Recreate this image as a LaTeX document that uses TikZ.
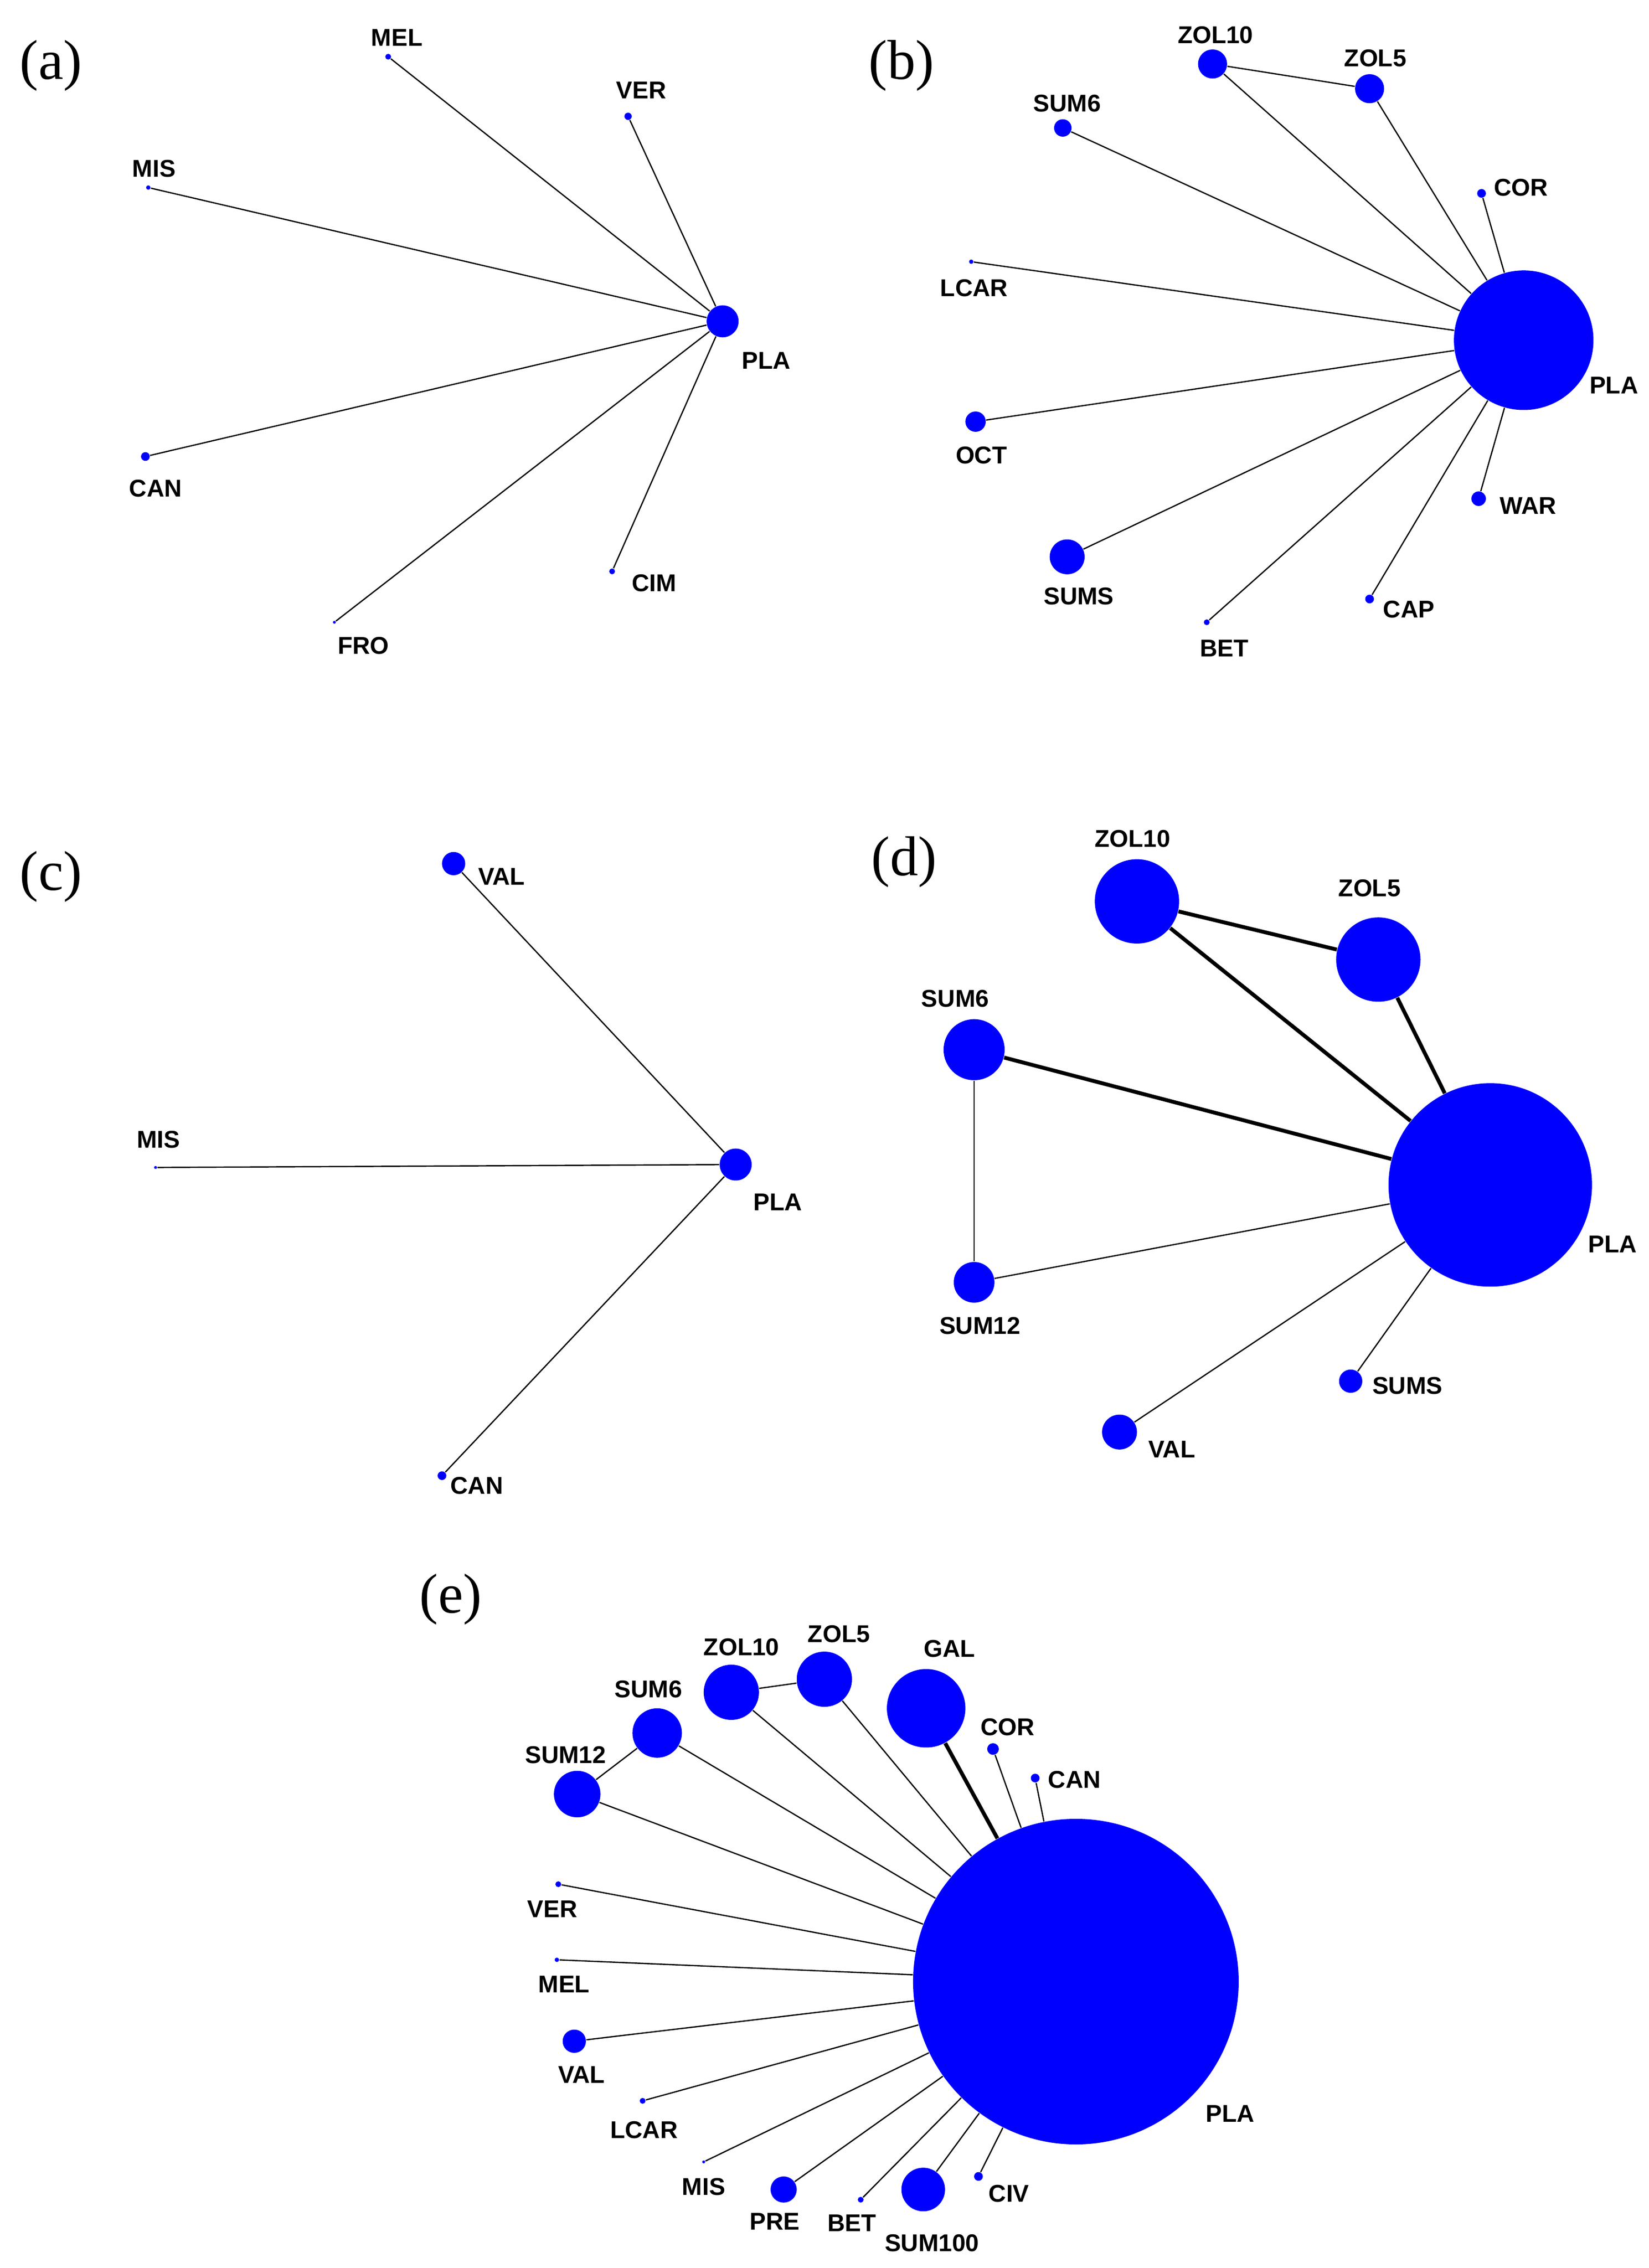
\documentclass[tikz,border=0pt]{standalone}
\usepackage{fontspec}
\setmainfont{Liberation Serif}
\newfontfamily\lblfont{Liberation Sans}
\usetikzlibrary{positioning}
\tikzset{
  dot/.style={circle,fill=blue,draw=none,inner sep=0pt,minimum size=#1*0.4mm},
  lbl/.style={font=\lblfont\bfseries\fontsize{9.5}{10}\selectfont,inner sep=0pt},
  panel/.style={font=\fontsize{22}{24}\selectfont,inner sep=0pt},
  edge/.style={line width=0.5pt,black},
  heavy/.style={line width=1.5pt,black}
}
\begin{document}
\begin{tikzpicture}[x=0.02cm,y=-0.02cm]
    \useasboundingbox (0,0) rectangle (1134,1560);

    % panel (a)
    \node[panel] (pa) at (35,45) {(a)};
    \node[dot=11] (aPLA) at (497,221) {};
    \node[dot=2] (aMEL) at (267,39) {};
    \node[dot=2.5] (aVER) at (432,80) {};
    \node[dot=1.5] (aMIS) at (102,129) {};
    \node[dot=3] (aCAN) at (100,314) {};
    \node[dot=1] (aFRO) at (230,428) {};
    \node[dot=2] (aCIM) at (421,393) {};
    \node[lbl] (aPLAl) at (527,248) {PLA};
    \node[lbl] (aMELl) at (273,26) {MEL};
    \node[lbl] (aVERl) at (441,62) {VER};
    \node[lbl] (aMISl) at (106,116) {MIS};
    \node[lbl] (aCANl) at (107,336) {CAN};
    \node[lbl] (aFROl) at (250,444) {FRO};
    \node[lbl] (aCIMl) at (450,401) {CIM};
    \foreach \n in {MEL,VER,MIS,CAN,FRO,CIM}
      \draw[edge] (a\n) -- (aPLA);

    % panel (b)
    \node[panel] (pb) at (620,45) {(b)};
    \node[dot=48] (bPLA) at (1048,234) {};
    \node[dot=10] (bZOLa) at (834,44) {};
    \node[dot=10] (bZOLb) at (942,61) {};
    \node[dot=6] (bSUMa) at (731,88) {};
    \node[dot=3] (bCOR) at (1019,133) {};
    \node[dot=1.5] (bLCAR) at (668,180) {};
    \node[dot=7] (bOCT) at (671,290) {};
    \node[dot=12] (bSUMS) at (734,383) {};
    \node[dot=2] (bBET) at (830,428) {};
    \node[dot=3] (bCAP) at (942,412) {};
    \node[dot=5] (bWAR) at (1017,343) {};
    \node[lbl] (bZOLal) at (836,24) {ZOL10};
    \node[lbl] (bZOLbl) at (946,40) {ZOL5};
    \node[lbl] (bSUMal) at (734,71) {SUM6};
    \node[lbl] (bCORl) at (1046,129) {COR};
    \node[lbl] (bLCARl) at (670,198) {LCAR};
    \node[lbl] (bOCTl) at (675,313) {OCT};
    \node[lbl] (bSUMSl) at (742,410) {SUMS};
    \node[lbl] (bBETl) at (842,446) {BET};
    \node[lbl] (bCAPl) at (969,419) {CAP};
    \node[lbl] (bWARl) at (1051,348) {WAR};
    \node[lbl] (bPLAl) at (1110,265) {PLA};
    \foreach \n in {ZOLa,ZOLb,SUMa,COR,LCAR,OCT,SUMS,BET,CAP,WAR}
      \draw[edge] (b\n) -- (bPLA);
    \draw[edge] (bZOLa) -- (bZOLb);

    % panel (c)
    \node[panel] (pc) at (35,603) {(c)};
    \node[dot=11] (cPLA) at (506,801) {};
    \node[dot=8] (cVAL) at (312,594) {};
    \node[dot=1] (cMIS) at (107,803) {};
    \node[dot=3] (cCAN) at (304,1015) {};
    \node[lbl] (cVALl) at (345,603) {VAL};
    \node[lbl] (cMISl) at (109,784) {MIS};
    \node[lbl] (cPLAl) at (535,827) {PLA};
    \node[lbl] (cCANl) at (328,1022) {CAN};
    \foreach \n in {VAL,MIS,CAN}
      \draw[edge] (c\n) -- (cPLA);

    % panel (d)
    \node[panel] (pd) at (622,593) {(d)};
    \node[dot=70] (dPLA) at (1025,815) {};
    \node[dot=29] (dZOLa) at (782,620) {};
    \node[dot=29] (dZOLb) at (948,660) {};
    \node[dot=21] (dSUMa) at (670,722) {};
    \node[dot=14] (dSUMb) at (670,882) {};
    \node[dot=8] (dSUMS) at (929,950) {};
    \node[dot=12] (dVAL) at (770,985) {};
    \node[lbl] (dZOLal) at (779,577) {ZOL10};
    \node[lbl] (dZOLbl) at (942,611) {ZOL5};
    \node[lbl] (dSUMal) at (657,687) {SUM6};
    \node[lbl] (dSUMbl) at (674,912) {SUM12};
    \node[lbl] (dSUMSl) at (968,953) {SUMS};
    \node[lbl] (dVALl) at (806,997) {VAL};
    \node[lbl] (dPLAl) at (1109,856) {PLA};
    \draw[heavy] (dZOLa) -- (dZOLb);
    \foreach \n in {ZOLa,ZOLb,SUMa}
      \draw[heavy] (d\n) -- (dPLA);
    \foreach \n in {SUMb,SUMS,VAL}
      \draw[edge] (d\n) -- (dPLA);
    \draw[edge] (dSUMa) -- (dSUMb);

    % panel (e)
    \node[panel] (pe) at (310,1100) {(e)};
    \node[dot=112] (ePLA) at (740,1363) {};
    \node[dot=27] (eGAL) at (637,1175) {};
    \node[dot=19] (eZOLb) at (567,1155) {};
    \node[dot=19] (eZOLa) at (503,1164) {};
    \node[dot=17] (eSUMa) at (452,1192) {};
    \node[dot=16] (eSUMb) at (397,1234) {};
    \node[dot=4] (eCOR) at (683,1203) {};
    \node[dot=3] (eCAN) at (712,1223) {};
    \node[dot=2] (eVER) at (384,1296) {};
    \node[dot=1.5] (eMEL) at (383,1348) {};
    \node[dot=8] (eVAL) at (395,1404) {};
    \node[dot=2] (eLCAR) at (442,1445) {};
    \node[dot=1] (eMIS) at (484,1487) {};
    \node[dot=9] (ePRE) at (539,1506) {};
    \node[dot=2] (eBET) at (592,1513) {};
    \node[dot=15] (eSUMc) at (635,1506) {};
    \node[dot=3] (eCIV) at (673,1497) {};
    \node[lbl] (eGALl) at (653,1134) {GAL};
    \node[lbl] (eZOLbl) at (577,1124) {ZOL5};
    \node[lbl] (eZOLal) at (510,1133) {ZOL10};
    \node[lbl] (eSUMal) at (446,1162) {SUM6};
    \node[lbl] (eSUMbl) at (389,1207) {SUM12};
    \node[lbl] (eCORl) at (693,1188) {COR};
    \node[lbl] (eCANl) at (739,1224) {CAN};
    \node[lbl] (eVERl) at (380,1313) {VER};
    \node[lbl] (eMELl) at (388,1365) {MEL};
    \node[lbl] (eVALl) at (400,1427) {VAL};
    \node[lbl] (eLCARl) at (443,1465) {LCAR};
    \node[lbl] (eMISl) at (484,1504) {MIS};
    \node[lbl] (ePREl) at (533,1528) {PRE};
    \node[lbl] (eBETl) at (586,1529) {BET};
    \node[lbl] (eSUMcl) at (641,1543) {SUM100};
    \node[lbl] (eCIVl) at (694,1509) {CIV};
    \node[lbl] (ePLAl) at (846,1454) {PLA};
    \draw[heavy] (eGAL) -- (ePLA);
    \foreach \n in {ZOLb,ZOLa,SUMa,SUMb,COR,CAN,VER,MEL,VAL,LCAR,MIS,PRE,BET,SUMc,CIV}
      \draw[edge] (e\n) -- (ePLA);
    \draw[edge] (eZOLa) -- (eZOLb);
    \draw[edge] (eSUMa) -- (eSUMb);
\end{tikzpicture}
\end{document}
